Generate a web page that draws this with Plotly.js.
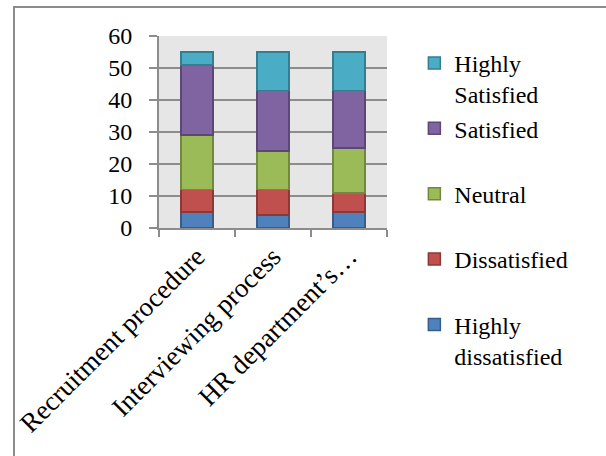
<!DOCTYPE html>
<html>
<head>
<meta charset="utf-8">
<script src="https://cdn.plot.ly/plotly-3.0.1.min.js"></script>
<style>
html,body{margin:0;padding:0;background:#fff;}
#wrap{position:relative;width:606px;height:456px;overflow:hidden;}
#chart{position:absolute;left:0;top:0;width:606px;height:456px;}
#frame{position:absolute;left:13px;top:6px;width:600px;height:460px;border-left:2px solid #8c8c8c;border-top:2px solid #8c8c8c;pointer-events:none;}
</style>
</head>
<body>
<div id="wrap"><div id="chart"></div><div id="frame"></div></div>
<script>
const categories = ["Recruitment procedure", "Interviewing process", "HR department\u2019s\u2026"];
const highlyDissatisfied = [5, 4, 5];
const dissatisfied = [7, 8, 6];
const neutral = [17, 12, 14];
const satisfied = [22, 19, 18];
const highlySatisfied = [4, 12, 12];
const yTicks = [0, 10, 20, 30, 40, 50, 60];

const seriesNames = ["Highly<br>dissatisfied", "Dissatisfied<br>&nbsp;", "Neutral<br>&nbsp;", "Satisfied<br>&nbsp;", "Highly<br>Satisfied"];
const seriesValues = [highlyDissatisfied, dissatisfied, neutral, satisfied, highlySatisfied];
const fills = ["#4f81bd", "#c0504d", "#9bbb59", "#8064a2", "#4bacc6"];
const edges = ["#385d8a", "#8c3836", "#71893f", "#5c4776", "#357d91"];

const traces = seriesNames.map((n, i) => ({
  type: "bar",
  x: categories,
  y: seriesValues[i],
  name: n,
  legendgroup: "g" + i,
  marker: {color: fills[i], line: {color: edges[i], width: 1.5}},
  hoverinfo: "none"
}));

const fam = "Liberation Serif";
const font = {family: fam, size: 24, color: "#000"};

const layout = {
  width: 606, height: 456,
  margin: {l: 159, r: 219, t: 36, b: 228},
  paper_bgcolor: "#ffffff",
  plot_bgcolor: "#e6e6e6",
  barmode: "stack",
  bargap: 0.58,
  font: font,
  showlegend: true,
  legend: {
    x: 1.12, xanchor: "left", y: 0.975, yanchor: "top",
    traceorder: "reversed",
    valign: "top",
    tracegroupgap: 7,
    maxheight: 420,
    font: {family: fam, size: 24, color: "#000"},
    bgcolor: "rgba(0,0,0,0)"
  },
  xaxis: {
    type: "category",
    tickangle: -45,
    tickson: "boundaries",
    ticks: "outside", ticklen: 7, tickwidth: 2, tickcolor: "#8c8c8c",
    showline: true, linecolor: "#8c8c8c", linewidth: 2,
    showgrid: false,
    tickfont: {family: fam, size: 27, color: "#000"},
    automargin: false
  },
  yaxis: {
    range: [0, 60],
    tickvals: yTicks,
    ticktext: yTicks.map(String),
    ticks: "outside", ticklen: 8, tickwidth: 2, tickcolor: "#8c8c8c",
    showline: true, linecolor: "#8c8c8c", linewidth: 2,
    showgrid: true, gridcolor: "#8c8c8c", gridwidth: 2,
    zeroline: false,
    ticklabelstandoff: 12,
    tickfont: {family: fam, size: 24, color: "#000"},
    automargin: false
  }
};

Plotly.newPlot("chart", traces, layout, {staticPlot: true, displayModeBar: false});
</script>
</body>
</html>
